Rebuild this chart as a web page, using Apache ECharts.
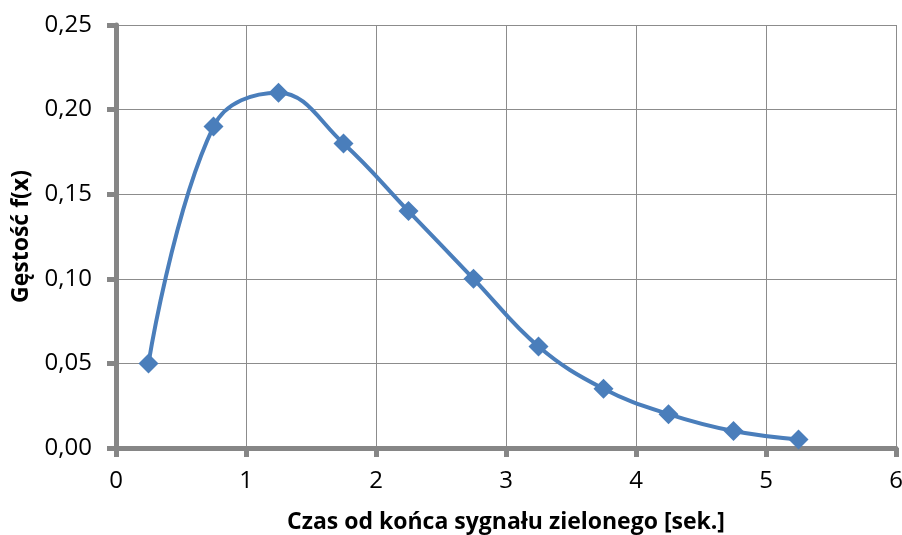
<!DOCTYPE html>
<html><head><meta charset="utf-8">
<script src="https://cdn.jsdelivr.net/npm/echarts@6/dist/echarts.min.js"></script>
<style>html,body{margin:0;padding:0;background:#fff}#c{width:902px;height:535px}</style>
</head><body><div id="c"></div>
<script>
const xValues = [0.25, 0.75, 1.25, 1.75, 2.25, 2.75, 3.25, 3.75, 4.25, 4.75, 5.25];
const yValues = [0.05, 0.19, 0.21, 0.18, 0.14, 0.10, 0.06, 0.035, 0.02, 0.01, 0.005];
const xAxisTitle = 'Czas od końca sygnału zielonego [sek.]';
const yAxisTitle = 'Gęstość f(x)';

const chart = echarts.init(document.getElementById('c'), null, {renderer: 'canvas'});
const font = '"Open Sans", "Noto Sans", sans-serif';
const axisLine = {show: true, onZero: false, lineStyle: {color: '#868686', width: 5}};
const axisTick = {show: true, inside: false, length: 9, lineStyle: {color: '#868686', width: 5}};
const splitLine = {show: true, lineStyle: {color: '#8c8c8c', width: 1}};
chart.setOption({
  animation: false,
  grid: {left: 116, right: 6, top: 25, bottom: 87, containLabel: false, outerBoundsMode: 'none'},
  xAxis: {
    type: 'value', min: 0, max: 6, interval: 1,
    axisLine, axisTick, splitLine,
    axisLabel: {color: '#000', fontSize: 24, fontFamily: font, margin: 21},
    name: xAxisTitle, nameLocation: 'middle', nameGap: 63,
    nameTextStyle: {color: '#000', fontSize: 23, fontWeight: 'bold', fontFamily: font}
  },
  yAxis: {
    type: 'value', min: 0, max: 0.25, interval: 0.05,
    axisLine, axisTick, splitLine,
    axisLabel: {color: '#000', fontSize: 24, fontFamily: font, margin: 24,
      formatter: v => v.toFixed(2).replace('.', ',')},
    name: yAxisTitle, nameLocation: 'middle', nameGap: 83,
    nameTextStyle: {color: '#000', fontSize: 23, fontWeight: 'bold', fontFamily: font}
  },
  series: [{
    type: 'line',
    data: xValues.map((x, i) => [x, yValues[i]]),
    smooth: 0.4,
    symbol: 'diamond', symbolSize: 20,
    lineStyle: {color: '#4a7ebb', width: 4},
    itemStyle: {color: '#4a7ebb'}
  }]
});
</script></body></html>
